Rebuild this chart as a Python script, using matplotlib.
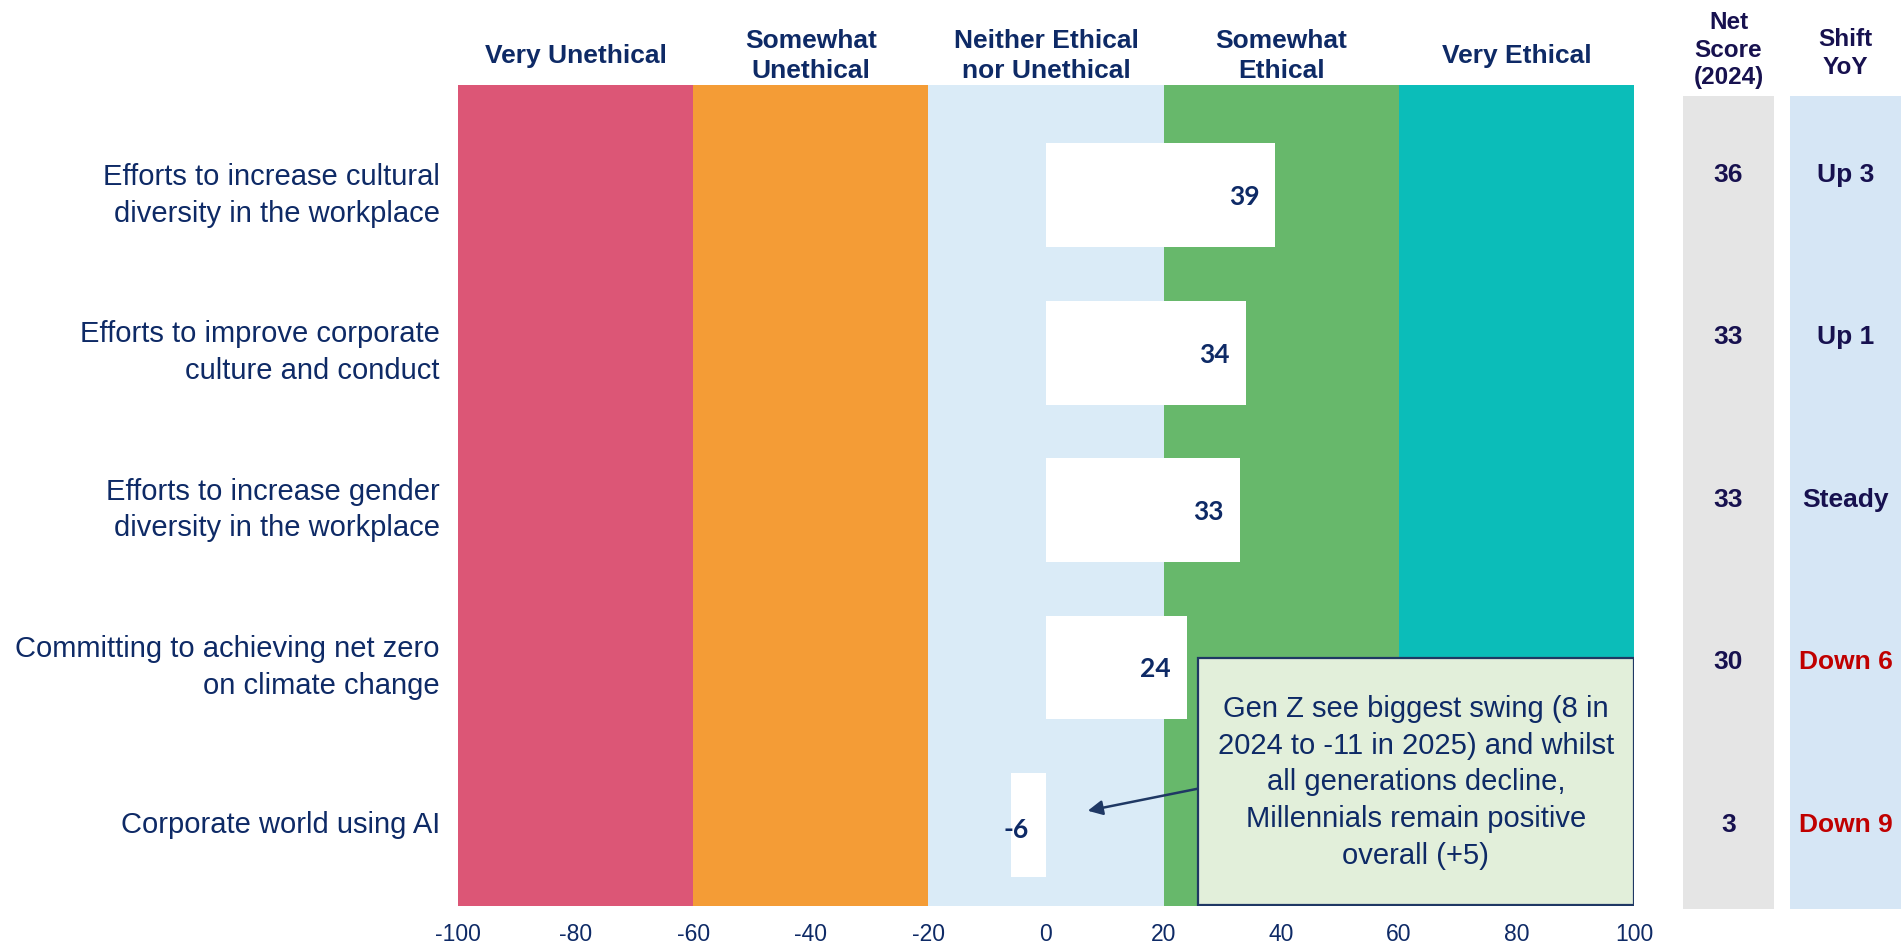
import matplotlib.pyplot as plt
from matplotlib.patches import Rectangle

plt.rcParams['font.family'] = ['Liberation Sans', 'DejaVu Sans']

# Survey data
categories = [
    'Efforts to increase cultural\ndiversity in the workplace',
    'Efforts to improve corporate\nculture and conduct',
    'Efforts to increase gender\ndiversity in the workplace',
    'Committing to achieving net zero\non climate change',
    'Corporate world using AI',
]
net_2025 = [39, 34, 33, 24, -6]
net_2024 = [36, 33, 33, 30, 3]
shift_yoy = ['Up 3', 'Up 1', 'Steady', 'Down 6', 'Down 9']
shift_down = [False, False, False, True, True]

band_edges = [-100, -60, -20, 20, 60, 100]
band_labels = ['Very Unethical', 'Somewhat\nUnethical', 'Neither Ethical\nnor Unethical',
               'Somewhat\nEthical', 'Very Ethical']
band_colors = ['#DC5676', '#F49C36', '#DAEBF7', '#67B86B', '#0BBDB9']

xticks = [-100, -80, -60, -40, -20, 0, 20, 40, 60, 80, 100]

note = ('Gen Z see biggest swing (8 in\n2024 to -11 in 2025) and whilst\n'
        'all generations decline,\nMillennials remain positive\noverall (+5)')

navy = '#0E2A66'
col_text = '#17114F'
down_red = '#C00000'

W, H = 1901, 943
fig = plt.figure(figsize=(W / 100, H / 100), dpi=100)

# main diverging chart
ax = fig.add_axes([458 / W, 1 - 906 / H, 1176 / W, 821 / H])
rows = list(range(len(categories)))

for lo, hi, c in zip(band_edges[:-1], band_edges[1:], band_colors):
    ax.axvspan(lo, hi, color=c, lw=0, zorder=0)

for lo, hi, lab in zip(band_edges[:-1], band_edges[1:], band_labels):
    ax.text((lo + hi) / 2, 1.035, lab, transform=ax.get_xaxis_transform(),
            ha='center', va='center', fontsize=19, fontweight='bold',
            color=navy, linespacing=1.3)

bars = ax.barh(rows, net_2025, height=0.66, color='white', lw=0, zorder=2)
for r, v in zip(rows, net_2025):
    if v >= 0:
        ax.annotate(str(v), (v, r), xytext=(-16, -2), textcoords='offset pixels',
                    ha='right', va='center', fontsize=19, family='Lato',
                    fontweight='bold', color=navy, zorder=3)
    else:
        ax.annotate(str(v), (v, r), xytext=(-7, -5), textcoords='offset pixels',
                    ha='left', va='center', fontsize=19, family='Lato',
                    fontweight='bold', color=navy, zorder=3)

ax.set_xlim(-100, 100)
ax.set_ylim(4.515, -0.7)
ax.set_xticks(xticks)
ax.set_xticklabels([str(t) for t in xticks])
ax.set_yticks(rows)
ax.set_yticklabels(categories, linespacing=1.4, va='center')
ax.tick_params(axis='x', length=0, pad=12, labelsize=16.5, labelcolor=navy)
ax.tick_params(axis='y', length=0, pad=13, labelsize=21, labelcolor=navy)
for s in ax.spines.values():
    s.set_visible(False)

# commentary box with arrow
ax.add_patch(Rectangle((25.8, 2.94), 100 - 25.8, 4.51 - 2.94, facecolor='#E2EFDA',
                       edgecolor='#1F3864', lw=1.6, zorder=4))
ax.text((25.8 + 100) / 2, 3.73, note, ha='center', va='center', fontsize=21,
        color=navy, linespacing=1.4, zorder=5)
ax.annotate('', xy=(7.1, 3.91), xytext=(25.8, 3.77),
            arrowprops=dict(arrowstyle='-|>', color='#1F3864', lw=1.8,
                            mutation_scale=22, shrinkA=0, shrinkB=0), zorder=5)

# side columns: 2024 net score and year-on-year shift
col_bottom = 1 - 909 / H
col_height = (909 - 96) / H
ax_net = fig.add_axes([1683 / W, col_bottom, 91 / W, col_height])
ax_shift = fig.add_axes([1790 / W, col_bottom, 111 / W, col_height])
for a, fc in [(ax_net, '#E5E5E5'), (ax_shift, '#D6E6F5')]:
    a.set_facecolor(fc)
    a.set_xlim(0, 1)
    a.set_ylim(4.52, -0.485)
    a.set_xticks([])
    a.set_yticks([])
    for s in a.spines.values():
        s.set_visible(False)

ax_net.text(0.5, 1.056, 'Net\nScore\n(2024)', transform=ax_net.transAxes,
            ha='center', va='center', fontsize=17.5, fontweight='bold',
            color=col_text, linespacing=1.25)
ax_shift.text(0.5, 1.052, 'Shift\nYoY', transform=ax_shift.transAxes,
              ha='center', va='center', fontsize=17.5, fontweight='bold',
              color=col_text, linespacing=1.3)

for r, v, s, d in zip(rows, net_2024, shift_yoy, shift_down):
    ax_net.text(0.5, r, str(v), ha='center', va='center', fontsize=19,
                fontweight='bold', color=col_text)
    ax_shift.text(0.5, r, s, ha='center', va='center', fontsize=19,
                  fontweight='bold', color=down_red if d else col_text)

fig.savefig('out.png', dpi=100, facecolor='white')
